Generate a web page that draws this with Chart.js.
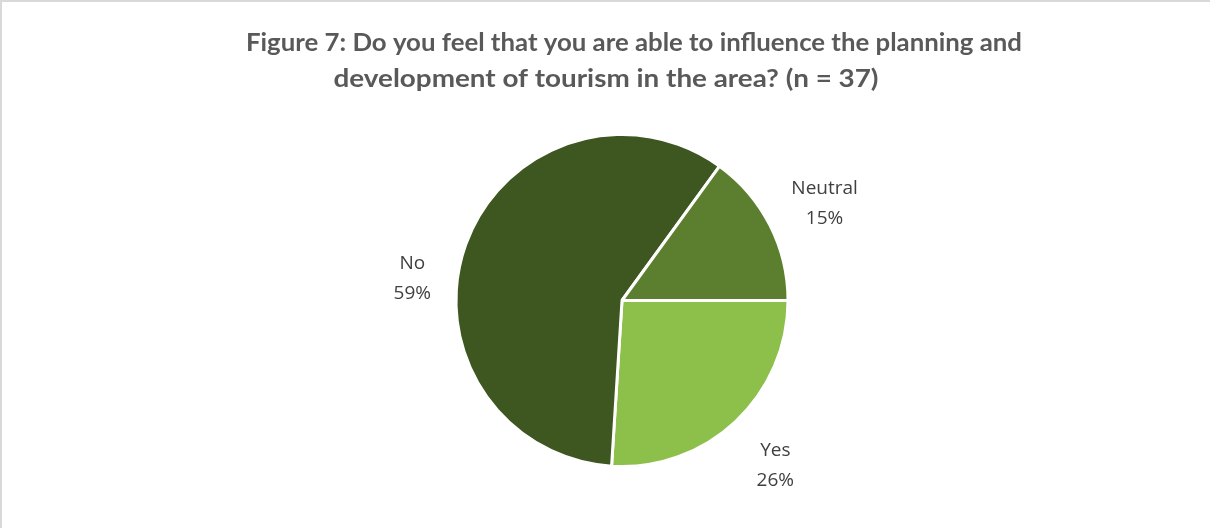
<!DOCTYPE html>
<html>
<head>
<meta charset="utf-8">
<script src="https://cdn.jsdelivr.net/npm/chart.js@4.4.1/dist/chart.umd.min.js"></script>
<style>
  html, body { margin: 0; padding: 0; background: #ffffff; }
  #wrap { position: relative; width: 1210px; height: 528px; }
</style>
</head>
<body>
<div id="wrap"><canvas id="chart" width="1210" height="528"></canvas></div>
<script>
// Daten
const categories = ['Yes', 'No', 'Neutral'];
const shares = [26, 59, 15];
const sliceColors = ['#8dbf4b', '#3e5620', '#5b7f2e'];
const titleLines = [
    'Figure 7: Do you feel that you are able to influence the planning and',
    'development of tourism in the area? (n = 37)'
];

// Layout: Mitte und Breite je Titelzeile
const titleBoxes = [[634, 43, 776], [606, 79, 545]];
const labelDistance = 58;
const labelNudge = [[0, 2], [1, 54], [3, 5]];

// Rahmen + Titel
const framePlugin = {
    id: 'frame',
    beforeDraw(chart) {
        const ctx = chart.ctx;
        ctx.save();
        ctx.fillStyle = '#ffffff';
        ctx.fillRect(0, 0, chart.width, chart.height);
        ctx.strokeStyle = '#d9d9d9';
        ctx.lineWidth = 2;
        ctx.strokeRect(1, 1, chart.width + 10, chart.height + 10);
        ctx.fillStyle = '#595959';
        ctx.font = 'bold 24px Lato, "Open Sans", sans-serif';
        ctx.textAlign = 'center';
        ctx.textBaseline = 'middle';
        titleLines.forEach((line, i) => {
            const [cx, cy, w] = titleBoxes[i];
            const sx = w / ctx.measureText(line).width;
            ctx.save();
            ctx.translate(cx, cy);
            ctx.scale(sx, 1);
            ctx.fillText(line, 0, 0);
            ctx.restore();
        });
        ctx.restore();
    }
};

// Beschriftungen aussen am Kreis
const labelPlugin = {
    id: 'sliceLabels',
    afterDatasetsDraw(chart) {
        const ctx = chart.ctx;
        const arcs = chart.getDatasetMeta(0).data;
        ctx.save();
        ctx.fillStyle = '#404040';
        ctx.font = '19px "Open Sans", sans-serif';
        ctx.textAlign = 'center';
        ctx.textBaseline = 'middle';
        arcs.forEach((arc, i) => {
            const p = arc.getProps(['x', 'y', 'startAngle', 'endAngle', 'outerRadius'], true);
            const mid = (p.startAngle + p.endAngle) / 2;
            const d = p.outerRadius + labelDistance;
            const x = p.x + Math.cos(mid) * d + labelNudge[i][0];
            const y = p.y + Math.sin(mid) * d + labelNudge[i][1];
            ctx.fillText(categories[i], x, y - 15);
            ctx.fillText(shares[i] + '%', x, y + 15);
        });
        ctx.restore();
    }
};

new Chart(document.getElementById('chart'), {
    type: 'pie',
    data: {
        labels: categories,
        datasets: [{
            data: shares,
            backgroundColor: sliceColors,
            borderColor: '#ffffff',
            borderWidth: 3
        }]
    },
    options: {
        responsive: false,
        animation: false,
        rotation: 90,
        layout: { padding: { top: 133, bottom: 60, left: 34, right: 0 } },
        plugins: {
            legend: { display: false },
            tooltip: { enabled: false },
            title: { display: false }
        }
    },
    plugins: [framePlugin, labelPlugin]
});
</script>
</body>
</html>
